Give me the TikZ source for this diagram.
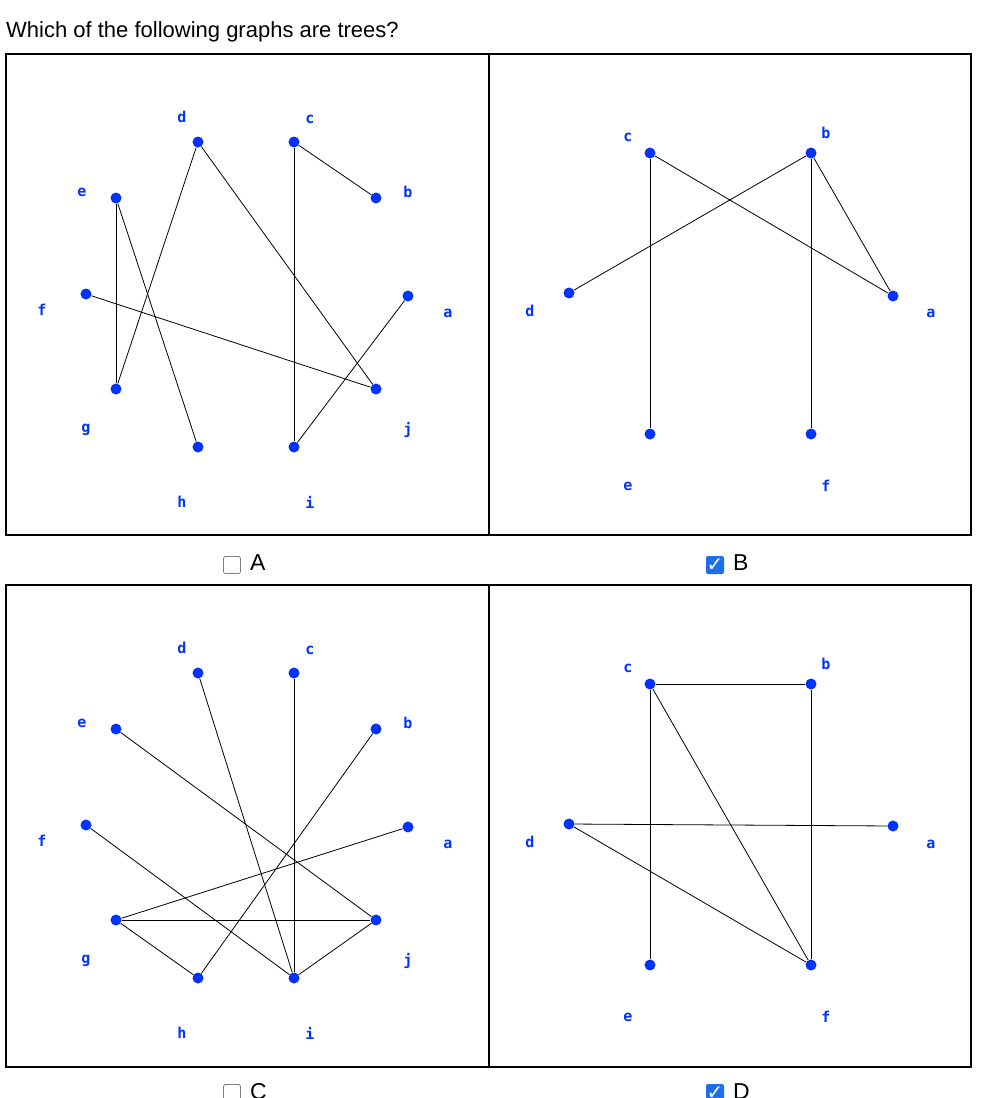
\documentclass[tikz,border=0pt]{standalone}
\usepackage{fontspec}
\setmainfont{Liberation Sans}
\newfontfamily\lab{DejaVu Sans Mono}
\newfontfamily\sym{DejaVu Sans}
\definecolor{nodeblue}{RGB}{0,51,255}
\definecolor{bg}{RGB}{255,255,255}
\definecolor{checkblue}{RGB}{30,110,235}
\begin{document}
\begin{tikzpicture}[x=1pt,y=-1pt,
  vtx/.style={circle,fill=nodeblue,inner sep=0pt,minimum size=11pt},
  lbl/.style={text=nodeblue,font=\lab\bfseries\fontsize{15}{15}\selectfont,inner sep=0pt},
  edge/.style={draw=black,line width=0.8pt},
  panel/.style={draw=black,line width=1.5pt,fill=white},
  box/.style={draw=gray,fill=white,rounded corners=2pt,line width=0.8pt,minimum size=17pt,inner sep=0pt},
  cbox/.style={fill=checkblue,rounded corners=2pt,minimum size=18pt,inner sep=0pt},
  opt/.style={font=\fontsize{23}{23}\selectfont,anchor=west,inner sep=0pt}]
\clip (0,0) rectangle (984,1098);
\fill[bg] (0,0) rectangle (984,1098);
\node[anchor=west,font=\fontsize{22}{22}\selectfont,inner sep=0pt] (q) at (6,32) {Which of the following graphs are trees?};
\draw[panel] (6,54) rectangle (489,535);
\draw[panel] (489,54) rectangle (971,535);
\draw[panel] (6,585) rectangle (489,1067);
\draw[panel] (489,585) rectangle (971,1067);
% Panel A
\foreach \n/\x/\y/\lx/\ly in {d/198/142/182/117,c/294/142/310/119,b/376/198/408/192,a/408/296/448/313,j/376/389/408/430,i/294/447/310/502,h/198/447/182/502,g/116/389/86/430,f/86/294/42/310,e/116/198/82/192}{
  \node[vtx] (A\n) at (\x,\y) {};
  \node[lbl] (LA\n) at (\lx,\ly) {\n};}
\foreach \u/\v in {d/j,d/g,e/g,e/h,f/j,c/i,c/b,a/i}{\draw[edge] (A\u) -- (A\v);}
% Panel B
\foreach \n/\x/\y/\lx/\ly in {c/650/153/628/137,b/811/153/826/133,d/569/293/530/311,a/893/296/931/313,e/650/434/628/486,f/811/434/826/486}{
  \node[vtx] (B\n) at (\x,\y) {};
  \node[lbl] (LB\n) at (\lx,\ly) {\n};}
\foreach \u/\v in {c/e,c/a,b/d,b/a,b/f}{\draw[edge] (B\u) -- (B\v);}
% Panel C
\foreach \n/\x/\y/\lx/\ly in {d/198/673/182/648,c/294/673/310/650,b/376/729/408/723,a/408/827/448/844,j/376/920/408/961,i/294/978/310/1033,h/198/978/182/1033,g/116/920/86/961,f/86/825/42/841,e/116/729/82/723}{
  \node[vtx] (C\n) at (\x,\y) {};
  \node[lbl] (LC\n) at (\lx,\ly) {\n};}
\foreach \u/\v in {d/i,c/i,b/h,a/g,e/j,f/i,g/j,g/h,i/j}{\draw[edge] (C\u) -- (C\v);}
% Panel D
\foreach \n/\x/\y/\lx/\ly in {c/650/684/628/668,b/811/684/826/664,d/569/824/530/842,a/893/826/931/844,e/650/965/628/1017,f/811/965/826/1017}{
  \node[vtx] (D\n) at (\x,\y) {};
  \node[lbl] (LD\n) at (\lx,\ly) {\n};}
\foreach \u/\v in {c/b,b/f,c/e,c/f,d/a,d/f}{\draw[edge] (D\u) -- (D\v);}
% options
\node[box] (ba) at (232,565) {};
\node[opt] (oa) at (250,563) {A};
\node[cbox] (bb) at (715,565) {\color{white}\sym\bfseries\fontsize{20}{20}\selectfont ✓};
\node[opt] (ob) at (733,563) {B};
\node[box] (bc) at (232,1093) {};
\node[opt] (oc) at (250,1092) {C};
\node[cbox] (bd) at (715,1093) {\color{white}\sym\bfseries\fontsize{20}{20}\selectfont ✓};
\node[opt] (od) at (733,1092) {D};
\end{tikzpicture}
\end{document}
